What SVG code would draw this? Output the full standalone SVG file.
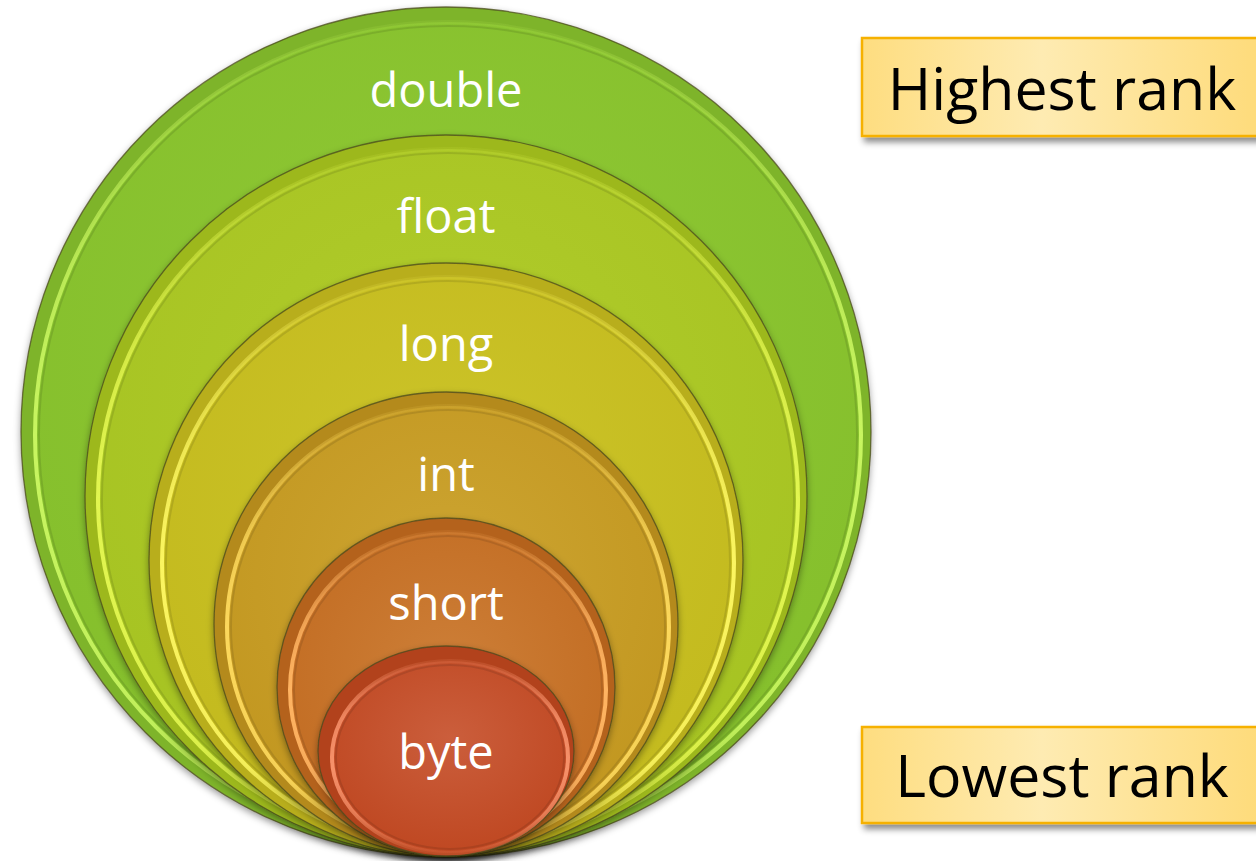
<svg xmlns="http://www.w3.org/2000/svg" width="1256" height="861" viewBox="0 0 1256 861">
  <style>
    .lbl { font-family: "Open Sans", "Liberation Sans", sans-serif; font-weight: 400; font-size: 47px; fill: #ffffff; text-anchor: middle; }
    .rank { font-family: "Open Sans", "Liberation Sans", sans-serif; font-weight: 400; font-size: 59px; fill: #000000; text-anchor: middle; }
    .rim { stroke: #4a4a1c; stroke-opacity: 0.75; stroke-width: 1.3; }
    .edge { fill: none; stroke-width: 4; filter: url(#soft); }
    .groove { fill: none; stroke: #000; stroke-opacity: 0.1; stroke-width: 2; filter: url(#soft); }
    .box { stroke: #f6b100; stroke-width: 2.5; fill: url(#boxFill); }
  </style>
  <defs>
    <filter id="discShadow" x="-10%" y="-10%" width="120%" height="125%">
      <feDropShadow dx="0" dy="3" stdDeviation="3.5" flood-color="#000" flood-opacity="0.38"/>
    </filter>
    <filter id="soft" x="-5%" y="-5%" width="110%" height="110%">
      <feGaussianBlur stdDeviation="0.7"/>
    </filter>
    <filter id="boxShadow" x="-10%" y="-20%" width="130%" height="150%">
      <feDropShadow dx="3" dy="5" stdDeviation="3" flood-color="#000" flood-opacity="0.45"/>
    </filter>
    <linearGradient id="boxFill" x1="0" y1="0" x2="1" y2="0">
      <stop offset="0" stop-color="#fedd80"/>
      <stop offset="0.45" stop-color="#feebb2"/>
      <stop offset="1" stop-color="#fedb7a"/>
    </linearGradient>

    <!-- highlight strokes: barely there along the top, bright down the sides, softer underneath -->
    <linearGradient id="hiDouble" x1="0" y1="0" x2="0" y2="1">
      <stop offset="0" stop-color="#c8f560" stop-opacity="0.1"/>
      <stop offset="0.3" stop-color="#c8f560" stop-opacity="0.8"/>
      <stop offset="0.5" stop-color="#c8f560" stop-opacity="1"/>
      <stop offset="0.85" stop-color="#c8f560" stop-opacity="0.9"/>
      <stop offset="1" stop-color="#c8f560" stop-opacity="0.3"/>
    </linearGradient>
    <linearGradient id="hiFloat" x1="0" y1="0" x2="0" y2="1">
      <stop offset="0" stop-color="#e2f650" stop-opacity="0.1"/>
      <stop offset="0.3" stop-color="#e2f650" stop-opacity="0.8"/>
      <stop offset="0.5" stop-color="#e2f650" stop-opacity="1"/>
      <stop offset="0.85" stop-color="#e2f650" stop-opacity="0.9"/>
      <stop offset="1" stop-color="#e2f650" stop-opacity="0.3"/>
    </linearGradient>
    <linearGradient id="hiLong" x1="0" y1="0" x2="0" y2="1">
      <stop offset="0" stop-color="#fbf560" stop-opacity="0.1"/>
      <stop offset="0.3" stop-color="#fbf560" stop-opacity="0.8"/>
      <stop offset="0.5" stop-color="#fbf560" stop-opacity="1"/>
      <stop offset="0.85" stop-color="#fbf560" stop-opacity="0.9"/>
      <stop offset="1" stop-color="#fbf560" stop-opacity="0.3"/>
    </linearGradient>
    <linearGradient id="hiInt" x1="0" y1="0" x2="0" y2="1">
      <stop offset="0" stop-color="#fcd85c" stop-opacity="0.1"/>
      <stop offset="0.3" stop-color="#fcd85c" stop-opacity="0.8"/>
      <stop offset="0.5" stop-color="#fcd85c" stop-opacity="1"/>
      <stop offset="0.85" stop-color="#fcd85c" stop-opacity="0.9"/>
      <stop offset="1" stop-color="#fcd85c" stop-opacity="0.3"/>
    </linearGradient>
    <linearGradient id="hiShort" x1="0" y1="0" x2="0" y2="1">
      <stop offset="0" stop-color="#ffb462" stop-opacity="0.1"/>
      <stop offset="0.3" stop-color="#ffb462" stop-opacity="0.8"/>
      <stop offset="0.5" stop-color="#ffb462" stop-opacity="1"/>
      <stop offset="0.85" stop-color="#ffb462" stop-opacity="0.85"/>
      <stop offset="1" stop-color="#ffb462" stop-opacity="0.25"/>
    </linearGradient>
    <linearGradient id="hiByte" x1="0" y1="0" x2="0" y2="1">
      <stop offset="0" stop-color="#f7916a" stop-opacity="0.15"/>
      <stop offset="0.3" stop-color="#f7916a" stop-opacity="0.85"/>
      <stop offset="0.55" stop-color="#f7916a" stop-opacity="1"/>
      <stop offset="0.8" stop-color="#f7916a" stop-opacity="0.7"/>
      <stop offset="1" stop-color="#f7916a" stop-opacity="0.15"/>
    </linearGradient>

    <!-- disc surfaces -->
    <radialGradient id="sfDouble" cx="0.5" cy="0.4" r="0.6">
      <stop offset="0" stop-color="#90c935"/>
      <stop offset="1" stop-color="#85bf2c"/>
    </radialGradient>
    <radialGradient id="sfFloat" cx="0.5" cy="0.4" r="0.6">
      <stop offset="0" stop-color="#b2cd2c"/>
      <stop offset="1" stop-color="#a6c322"/>
    </radialGradient>
    <radialGradient id="sfLong" cx="0.5" cy="0.4" r="0.6">
      <stop offset="0" stop-color="#cdc52a"/>
      <stop offset="1" stop-color="#c3ba1e"/>
    </radialGradient>
    <radialGradient id="sfInt" cx="0.5" cy="0.4" r="0.6">
      <stop offset="0" stop-color="#cda532"/>
      <stop offset="1" stop-color="#c29720"/>
    </radialGradient>
    <radialGradient id="sfShort" cx="0.5" cy="0.45" r="0.6">
      <stop offset="0" stop-color="#cd7f38"/>
      <stop offset="1" stop-color="#c26c22"/>
    </radialGradient>
    <radialGradient id="sfByte" cx="0.5" cy="0.4" r="0.6">
      <stop offset="0" stop-color="#cb5e3c"/>
      <stop offset="1" stop-color="#bf4822"/>
    </radialGradient>
  </defs>

  <rect width="1256" height="861" fill="#ffffff"/>

  <!-- nested type discs, all touching at the bottom -->
  <g id="node-double">
    <circle class="rim" cx="446" cy="432" r="425" fill="#7eb42a" filter="url(#discShadow)"/>
    <circle cx="448" cy="435" r="413" fill="url(#sfDouble)"/>
    <circle class="groove" cx="448" cy="435" r="409"/>
    <circle class="edge" cx="448" cy="435" r="413" stroke="url(#hiDouble)"/>
    <text class="lbl" x="446" y="107">double</text>
  </g>

  <g id="node-float">
    <circle class="rim" cx="446" cy="496" r="361" fill="#9db81f" filter="url(#discShadow)"/>
    <circle cx="448" cy="499" r="350" fill="url(#sfFloat)"/>
    <circle class="groove" cx="448" cy="499" r="346"/>
    <circle class="edge" cx="448" cy="499" r="350" stroke="url(#hiFloat)"/>
    <text class="lbl" x="446" y="233">float</text>
  </g>

  <g id="node-long">
    <circle class="rim" cx="446" cy="560" r="297" fill="#b8ae1a" filter="url(#discShadow)"/>
    <circle cx="448" cy="563" r="286" fill="url(#sfLong)"/>
    <circle class="groove" cx="448" cy="563" r="282"/>
    <circle class="edge" cx="448" cy="563" r="286" stroke="url(#hiLong)"/>
    <text class="lbl" x="446" y="361">long</text>
  </g>

  <g id="node-int">
    <circle class="rim" cx="446" cy="624" r="232" fill="#b48a1c" filter="url(#discShadow)"/>
    <circle cx="448" cy="627" r="221" fill="url(#sfInt)"/>
    <circle class="groove" cx="448" cy="627" r="217"/>
    <circle class="edge" cx="448" cy="627" r="221" stroke="url(#hiInt)"/>
    <text class="lbl" x="446" y="491">int</text>
  </g>

  <g id="node-short">
    <circle class="rim" cx="446" cy="687" r="169" fill="#b4621e" filter="url(#discShadow)"/>
    <circle cx="448" cy="690" r="158" fill="url(#sfShort)"/>
    <circle class="groove" cx="448" cy="690" r="154"/>
    <circle class="edge" cx="448" cy="690" r="158" stroke="url(#hiShort)"/>
    <text class="lbl" x="446" y="620">short</text>
  </g>

  <g id="node-byte">
    <ellipse class="rim" cx="446" cy="751" rx="128" ry="105" fill="#b2421e" filter="url(#discShadow)"/>
    <ellipse cx="450" cy="757" rx="118" ry="96" fill="url(#sfByte)"/>
    <ellipse class="groove" cx="450" cy="757" rx="114" ry="92"/>
    <ellipse class="edge" cx="450" cy="757" rx="118" ry="96" stroke="url(#hiByte)"/>
    <text class="lbl" x="446" y="769">byte</text>
  </g>

  <!-- rank captions -->
  <g id="node-highest">
    <rect class="box" x="862" y="38" width="400" height="98" filter="url(#boxShadow)"/>
    <text class="rank" x="1062" y="110">Highest rank</text>
  </g>

  <g id="node-lowest">
    <rect class="box" x="862" y="727" width="400" height="96" filter="url(#boxShadow)"/>
    <text class="rank" x="1062" y="797">Lowest rank</text>
  </g>

  <g id="connectors"></g>
</svg>
